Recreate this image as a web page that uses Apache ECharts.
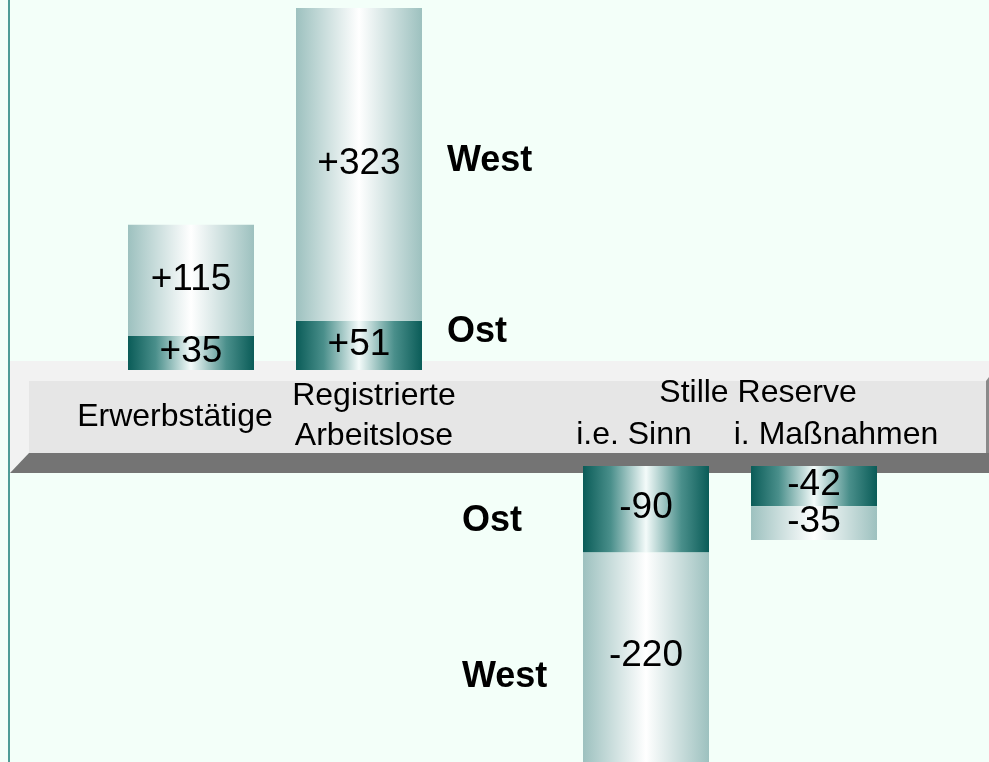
<!DOCTYPE html>
<html>
<head>
<meta charset="utf-8">
<script src="https://cdn.jsdelivr.net/npm/echarts@6/dist/echarts.min.js"></script>
<style>
html,body{margin:0;padding:0;background:#f3fff9;}
#chart{width:989px;height:762px;}
</style>
</head>
<body>
<div id="chart"></div>
<script>
// ---- data ----
var categoriesTop = ['Erwerbstätige', 'Registrierte\nArbeitslose'];
var categoriesBottom = ['i.e. Sinn', 'i. Maßnahmen'];
var groupBottom = 'Stille Reserve';
var ostTop = [35, 51];
var westTop = [115, 323];
var ostBottom = [-90, -42];
var westBottom = [-220, -35];
var regionNames = ['Ost', 'West'];

// ---- styles ----
var FONT = '"Liberation Sans", Arial, Helvetica, sans-serif';
function grad(edge, mid) {
  return new echarts.graphic.LinearGradient(0, 0, 1, 0, [
    {offset: 0, color: edge},
    {offset: 0.5, color: mid},
    {offset: 1, color: edge}
  ]);
}
function gradOst() {
  return new echarts.graphic.LinearGradient(0, 0, 1, 0, [
    {offset: 0, color: '#0a5c58'},
    {offset: 0.22, color: '#4a8f8b'},
    {offset: 0.5, color: '#f4fbfa'},
    {offset: 0.78, color: '#4a8f8b'},
    {offset: 1, color: '#0a5c58'}
  ]);
}

var valueLabel = function (sign) {
  return {
    show: true,
    position: 'inside',
    offset: [0, -1],
    color: '#000',
    fontFamily: FONT,
    fontSize: 37,
    formatter: function (p) { return (sign && p.value > 0 ? '+' : '') + p.value; }
  };
};

var chart = echarts.init(document.getElementById('chart'), null, {renderer: 'canvas'});

var LBL = '32px ' + FONT;
var BOLD = 'bold 36px ' + FONT;
var graphics = [
  // band: light back (top + left faces)
  {type: 'polygon', z: 0, silent: true,
   shape: {points: [[10, 361], [989, 361], [989, 453], [29, 453], [10, 473]]},
   style: {fill: '#f2f2f2'}},
  // front face
  {type: 'rect', z: 0, silent: true,
   shape: {x: 29, y: 381, width: 957, height: 72},
   style: {fill: '#e6e6e6'}},
  // right edge
  {type: 'polygon', z: 0, silent: true,
   shape: {points: [[986, 381], [989, 377], [989, 453], [986, 453]]},
   style: {fill: '#8a8a8a'}},
  // bottom dark face
  {type: 'polygon', z: 0, silent: true,
   shape: {points: [[29, 453], [989, 453], [989, 473], [10, 473]]},
   style: {fill: '#747474'}},
  // left vertical line
  {type: 'rect', z: 10, silent: true,
   shape: {x: 8, y: 0, width: 2, height: 762},
   style: {fill: '#4e9c97'}},
  // category labels
  {type: 'text', z: 5, x: 175, y: 417,
   style: {text: categoriesTop[0], font: LBL, fill: '#000', align: 'center', verticalAlign: 'middle'}},
  {type: 'text', z: 5, x: 374, y: 416,
   style: {text: categoriesTop[1], font: LBL, fill: '#000', align: 'center', verticalAlign: 'middle', lineHeight: 40}},
  {type: 'text', z: 5, x: 758, y: 393,
   style: {text: groupBottom, font: LBL, fill: '#000', align: 'center', verticalAlign: 'middle'}},
  {type: 'text', z: 5, x: 634, y: 435,
   style: {text: categoriesBottom[0], font: LBL, fill: '#000', align: 'center', verticalAlign: 'middle'}},
  {type: 'text', z: 5, x: 836, y: 435,
   style: {text: categoriesBottom[1], font: LBL, fill: '#000', align: 'center', verticalAlign: 'middle'}},
  // region labels
  {type: 'text', z: 5, x: 447, y: 161,
   style: {text: regionNames[1], font: BOLD, fill: '#000', align: 'left', verticalAlign: 'middle'}},
  {type: 'text', z: 5, x: 447, y: 332,
   style: {text: regionNames[0], font: BOLD, fill: '#000', align: 'left', verticalAlign: 'middle'}},
  {type: 'text', z: 5, x: 462, y: 521,
   style: {text: regionNames[0], font: BOLD, fill: '#000', align: 'left', verticalAlign: 'middle'}},
  {type: 'text', z: 5, x: 462, y: 677,
   style: {text: regionNames[1], font: BOLD, fill: '#000', align: 'left', verticalAlign: 'middle'}}
];

var option = {
  animation: false,
  backgroundColor: '#f3fff9',
  graphic: {elements: graphics},
  grid: [
    {left: 107, width: 336, top: 8, height: 362},
    {left: 562, width: 336, top: 466, height: 296}
  ],
  xAxis: [
    {type: 'category', gridIndex: 0, data: categoriesTop, show: false},
    {type: 'category', gridIndex: 1, data: categoriesBottom, show: false}
  ],
  yAxis: [
    {type: 'value', gridIndex: 0, min: 0, max: 374, show: false, splitLine: {show: false}},
    {type: 'value', gridIndex: 1, min: -308, max: 0, show: false, splitLine: {show: false}}
  ],
  series: [
    {name: 'Ost', type: 'bar', xAxisIndex: 0, yAxisIndex: 0, stack: 'top', barWidth: 126, z: 3,
     data: ostTop, itemStyle: {color: gradOst()}, label: valueLabel(true)},
    {name: 'West', type: 'bar', xAxisIndex: 0, yAxisIndex: 0, stack: 'top', barWidth: 126, z: 3,
     data: westTop, itemStyle: {color: grad('#9dc1bf', '#ffffff')}, label: valueLabel(true)},
    {name: 'Ost', type: 'bar', xAxisIndex: 1, yAxisIndex: 1, stack: 'bot', barWidth: 126, z: 3,
     data: ostBottom, itemStyle: {color: gradOst()}, label: valueLabel(false)},
    {name: 'West', type: 'bar', xAxisIndex: 1, yAxisIndex: 1, stack: 'bot', barWidth: 126, z: 3,
     data: westBottom, itemStyle: {color: grad('#9dc1bf', '#ffffff')}, label: valueLabel(false)}
  ]
};
chart.setOption(option);
</script>
</body>
</html>
